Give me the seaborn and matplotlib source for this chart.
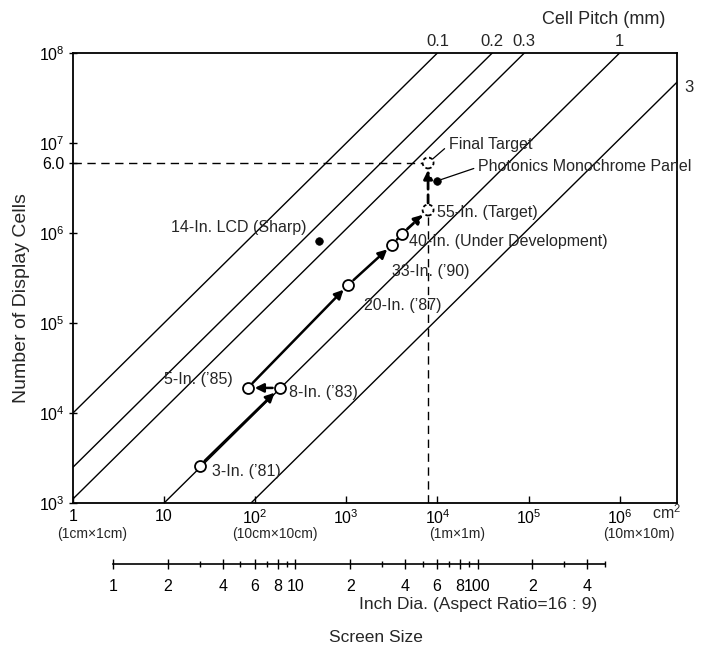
import numpy as np
import pandas as pd
import matplotlib
matplotlib.use("Agg")
import matplotlib.pyplot as plt
import seaborn as sns

# ---------------- data ----------------
pitches_mm = [0.1, 0.2, 0.3, 1, 3]
pitch_labels = ["0.1", "0.2", "0.3", "1", "3"]

panel_labels = ["3-In. (’81)", "8-In. (’83)", "5-In. (’85)", "20-In. (’87)",
                "33-In. (’90)", "40-In. (Under Development)"]
panel_area = [24.6, 185, 83, 1054, 3200, 4115]          # cm^2
panel_cells = [2600, 19000, 19000, 266000, 741000, 985000]

target_labels = ["55-In. (Target)", "Final Target"]
target_area = [7900, 7900]
target_cells = [1.8e6, 6.0e6]

ref_labels = ["14-In. LCD (Sharp)", "Photonics Monochrome Panel"]
ref_area = [507, 1.0e4]
ref_cells = [8.2e5, 3.8e6]

x_ticks = [1, 10, 1e2, 1e3, 1e4, 1e5, 1e6]
x_ticklabels = ["1", "10", r"$10^{2}$", r"$10^{3}$", r"$10^{4}$", r"$10^{5}$", r"$10^{6}$"]
x_sublabels = {1: "(1cm×1cm)", 1e2: "(10cm×10cm)", 1e4: "(1m×1m)", 1e6: "(10m×10m)"}
y_ticks = [1e3, 1e4, 1e5, 1e6, 6e6, 1e7, 1e8]
y_ticklabels = [r"$10^{3}$", r"$10^{4}$", r"$10^{5}$", r"$10^{6}$", "6.0", r"$10^{7}$", r"$10^{8}$"]

inch_major = [1, 2, 4, 6, 8, 10, 20, 40, 60, 80, 100, 200, 400]
inch_major_labels = ["1", "2", "4", "6", "8", "10", "2", "4", "6", "8", "100", "2", "4"]
inch_minor = [3, 5, 7, 9, 30, 50, 70, 90, 300, 500]
inch_end = 500

XMIN, XMAX = 1.0, 10 ** 6.63
YMIN, YMAX = 1e3, 1e8
K169 = 2.54 ** 2 * 16 * 9 / (16 ** 2 + 9 ** 2)   # cm^2 per inch^2 of diagonal (16:9)

# ---------------- style ----------------
sns.set_theme(style="white")
plt.rcParams["font.family"] = ["Liberation Sans", "DejaVu Sans"]
plt.rcParams["mathtext.fontset"] = "custom"
plt.rcParams["mathtext.rm"] = "Liberation Sans"
plt.rcParams["mathtext.it"] = "Liberation Sans:italic"
plt.rcParams["axes.edgecolor"] = "black"
plt.rcParams["axes.linewidth"] = 1.3

W, H = 701, 656
fig = plt.figure(figsize=(W / 100, H / 100), dpi=100)
L, R, T, B = 73, 677, 53, 503
ax = fig.add_axes([L / W, 1 - B / H, (R - L) / W, (B - T) / H])

# pitch lines: N = 100 * A / p^2
rows = []
for p, lab in zip(pitches_mm, pitch_labels):
    for a in (XMIN, XMAX):
        rows.append({"area": a, "cells": 100 * a / p ** 2, "pitch": lab})
df_pitch = pd.DataFrame(rows)
sns.lineplot(data=df_pitch, x="area", y="cells", hue="pitch",
             palette=["black"] * len(pitches_mm), legend=False,
             linewidth=1.0, estimator=None, sort=False, ax=ax)

ax.set_xscale("log")
ax.set_yscale("log")
ax.set_xlim(XMIN, XMAX)
ax.set_ylim(YMIN, YMAX)

# dashed guide lines
dash = (0, (6, 4))
ax.plot([XMIN, target_area[1]], [target_cells[1], target_cells[1]], color="black",
        lw=1.0, ls=dash, zorder=2)
ax.plot([target_area[0], target_area[0]], [YMIN, target_cells[0]], color="black",
        lw=1.0, ls=dash, zorder=2)

# arrows along development path
arrow_kw = dict(arrowstyle="-|>", lw=1.8, color="black", shrinkA=5, shrinkB=5,
                mutation_scale=13)
for i in range(len(panel_area) - 1):
    st = (panel_area[i], panel_cells[i])
    en = (panel_area[i + 1], panel_cells[i + 1])
    kw = dict(arrow_kw)
    if i == len(panel_area) - 2:
        kw["arrowstyle"] = "-"
    ax.annotate("", xy=en, xytext=st, arrowprops=kw, zorder=3)
dkw = dict(arrow_kw, linestyle=(0, (3, 2)), lw=2.0)
ax.annotate("", xy=(target_area[0], target_cells[0]),
            xytext=(panel_area[-1], panel_cells[-1]), arrowprops=dkw, zorder=3)
ax.annotate("", xy=(target_area[1], target_cells[1]),
            xytext=(target_area[0], target_cells[0]), arrowprops=dkw, zorder=3)

# markers
df_panel = pd.DataFrame({"area": panel_area, "cells": panel_cells})
sns.scatterplot(data=df_panel, x="area", y="cells", color="white", edgecolor="black",
                linewidth=1.3, s=62, ax=ax, zorder=5)
df_target = pd.DataFrame({"area": target_area, "cells": target_cells})
sns.scatterplot(data=df_target, x="area", y="cells", color="white", edgecolor="black",
                linewidth=1.3, s=62, linestyle=(0, (2, 1.5)), ax=ax, zorder=5)
df_ref = pd.DataFrame({"area": ref_area, "cells": ref_cells})
sns.scatterplot(data=df_ref, x="area", y="cells", color="black", edgecolor="black",
                linewidth=0.5, s=30, ax=ax, zorder=5)

# labels for points (offsets in points)
fs = 11.5
panel_offsets = [(8.6, -4.3, "left"), (6.5, -3, "left"), (-11, 6, "right"),
                 (11, -15, "left"), (0, -19.5, "left"), (5, -6, "left")]
for lab, a, c, (dx, dy, ha) in zip(panel_labels, panel_area, panel_cells, panel_offsets):
    ax.annotate(lab, xy=(a, c), xytext=(dx, dy), textcoords="offset points",
                ha=ha, va="center", fontsize=fs, zorder=6)
ax.annotate(target_labels[0], xy=(target_area[0], target_cells[0]), xytext=(6.5, -1.5),
            textcoords="offset points", ha="left", va="center", fontsize=fs)
ax.annotate(target_labels[1], xy=(target_area[1], target_cells[1]), xytext=(15, 13),
            textcoords="offset points", ha="left", va="center", fontsize=fs,
            arrowprops=dict(arrowstyle="-", lw=0.9, color="black", relpos=(0, 0.5),
                            shrinkA=1, shrinkB=4))
ax.annotate(ref_labels[0], xy=(ref_area[0], ref_cells[0]), xytext=(-9.4, 9.4),
            textcoords="offset points", ha="right", va="center", fontsize=fs)
ax.annotate(ref_labels[1], xy=(ref_area[1], ref_cells[1]), xytext=(29.5, 10),
            textcoords="offset points", ha="left", va="center", fontsize=fs,
            arrowprops=dict(arrowstyle="-", lw=0.9, color="black", relpos=(0, 0.5),
                            shrinkA=1, shrinkB=3))

# pitch labels
for p, lab in zip(pitches_mm, pitch_labels):
    a_top = YMAX * p ** 2 / 100
    if a_top <= XMAX:
        ax.annotate(lab, xy=(a_top, YMAX), xytext=(0, 3), textcoords="offset points",
                    ha="center", va="bottom", fontsize=12, annotation_clip=False)
    else:
        ax.annotate(lab, xy=(XMAX, 100 * XMAX / p ** 2), xytext=(5, -4),
                    textcoords="offset points", ha="left", va="center", fontsize=12,
                    annotation_clip=False)

# ticks
ax.set_xticks(x_ticks)
ax.set_xticklabels(x_ticklabels)
ax.set_yticks(y_ticks)
ax.set_yticklabels(y_ticklabels)
ax.minorticks_off()
ax.tick_params(axis="x", direction="in", length=5, width=1, labelsize=11.5, pad=4,
               bottom=True, colors="black")
ax.tick_params(axis="y", direction="inout", length=6, width=1, labelsize=11.5, pad=3,
               left=True, colors="black")
ax.set_xlabel("")
ax.set_ylabel("")
for s in ax.spines.values():
    s.set_color("black")

for xv, txt in x_sublabels.items():
    ax.annotate(txt, xy=(xv, 0), xycoords=("data", "axes fraction"),
                xytext=(14, -22), textcoords="offset points", ha="center", va="center",
                fontsize=10)
ax.annotate("cm$^{2}$", xy=(1e6, 0), xycoords=("data", "axes fraction"),
            xytext=(34, -7), textcoords="offset points", ha="center", va="center",
            fontsize=11.5, annotation_clip=False)

# inch-diagonal axis
yi = 564
ax2 = fig.add_axes([L / W, 1 - yi / H, (R - L) / W, 0.0001])
ax2.set_facecolor("none")
ax2.set_xscale("log")
ax2.set_xlim(np.sqrt(XMIN / K169), np.sqrt(XMAX / K169))
ax2.set_yticks([])
for k in ("top", "left", "right"):
    ax2.spines[k].set_visible(False)
ax2.spines["bottom"].set_bounds(1, inch_end)
ax2.spines["bottom"].set_linewidth(1.2)
ax2.set_xticks(inch_major)
ax2.set_xticklabels(inch_major_labels)
ax2.set_xticks(inch_minor, minor=True)
ax2.set_xticklabels([], minor=True)
ax2.tick_params(axis="x", which="major", direction="inout", length=7, width=1,
                labelsize=11.5, pad=7, colors="black", bottom=True)
ax2.tick_params(axis="x", which="minor", direction="inout", length=5, width=1,
                colors="black", bottom=True)

# texts
fig.text(478 / W, 1 - 604 / H, "Inch Dia. (Aspect Ratio=16 : 9)", ha="center",
         va="center", fontsize=12.5)
fig.text(376 / W, 1 - 637 / H, "Screen Size", ha="center", va="center", fontsize=12.5)
fig.text(604 / W, 1 - 20 / H, "Cell Pitch (mm)", ha="center", va="center", fontsize=13)
fig.text(22 / W, 1 - 298 / H, "Number of Display Cells", rotation=90, ha="center",
         va="center", fontsize=14)

fig.savefig("out.png", dpi=100, facecolor="white")
